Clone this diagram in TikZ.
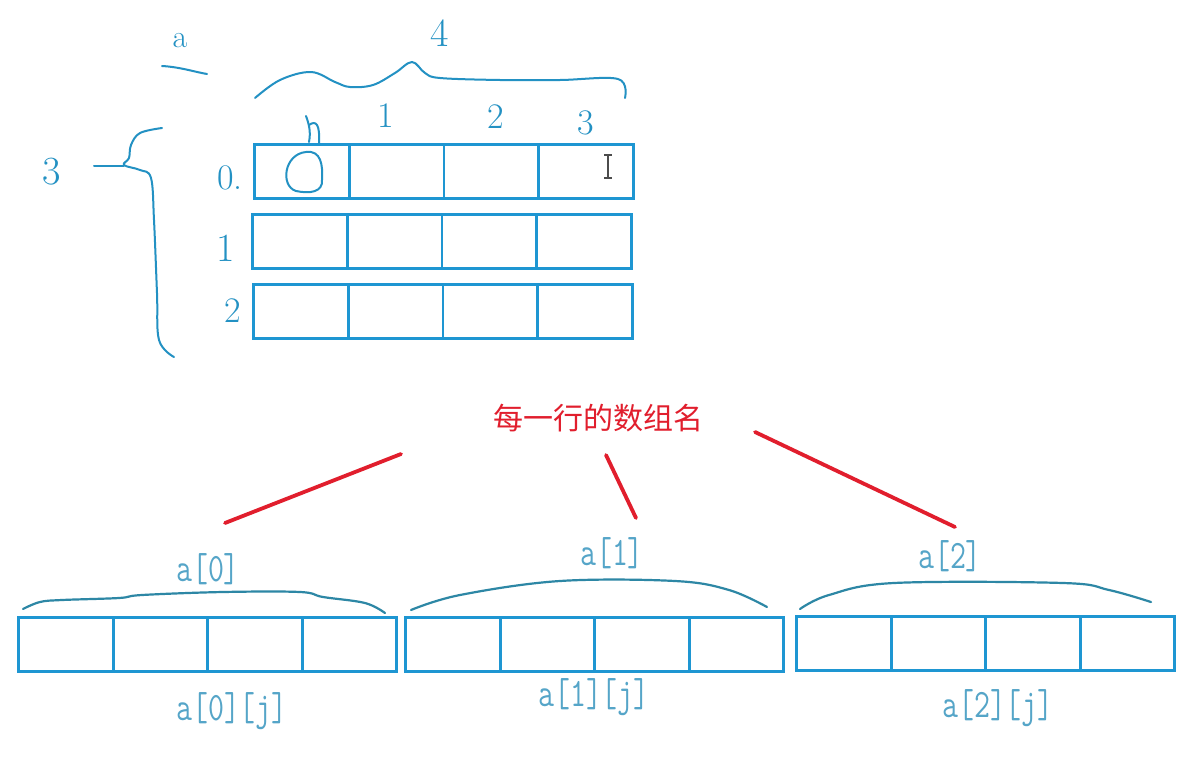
\documentclass[tikz,border=0pt]{standalone}
\usepackage{fontspec}
\usepackage{graphicx}
\newfontfamily\cjk{Noto Sans CJK SC}
\definecolor{gridblue}{RGB}{30,150,210}
\definecolor{inkblue}{RGB}{35,145,195}
\definecolor{teal}{RGB}{45,135,165}
\definecolor{labelblue}{RGB}{85,165,200}
\definecolor{myred}{RGB}{225,30,45}
\newcommand{\tall}[1]{\scalebox{1}[1.3]{#1}}
\begin{document}
\begin{tikzpicture}[x=1pt,y=-1pt,
 cell/.style={draw=gridblue,line width=2.8pt,minimum width=94.75pt,minimum height=54pt,inner sep=0pt,anchor=north west},
 ink/.style={draw=inkblue,line width=2pt,line cap=round,line join=round},
 ink2/.style={draw=teal,line width=2.2pt,line cap=round,line join=round},
 hand/.style={text=inkblue,font=\fontsize{36}{36}\selectfont,inner sep=0pt},
 lbl/.style={text=labelblue,font=\ttfamily\fontsize{31}{31}\selectfont,inner sep=0pt},
 redline/.style={draw=myred,line width=3.8pt,line cap=round}]
\useasboundingbox (0,0) rectangle (1203,782);
\fill[white] (0,0) rectangle (1203,782);
% top grid
\foreach \r/\x/\y in {0/253/143,1/251/213,2/252/283}
  \foreach \c in {0,...,3}
    \node[cell] (g\r\c) at ({\x+\c*94.75},\y) {};
% bottom arrays
\foreach \r/\x/\y in {0/17/616,1/404/616,2/795/615}
  \foreach \c in {0,...,3}
    \node[cell] (b\r\c) at ({\x+\c*94.5},\y) {};
% bottom labels
\node[lbl] (n0) at (208,569) {\tall{a[0]}};
\node[lbl] (n1) at (612,553) {\tall{a[1]}};
\node[lbl] (n2) at (950,556) {\tall{a[2]}};
\node[lbl] (e0) at (232,711) {\tall{a[0][j]}};
\node[lbl] (e1) at (594,697) {\tall{a[1][j]}};
\node[lbl] (e2) at (998,708) {\tall{a[2][j]}};
% bottom braces
\draw[ink2] plot[smooth,tension=0.6] coordinates {(23,609)(40,602)(62,600)(119,598)(142,595)(223,592)(300,592)(323,597)(365,603)(385,613)};
\draw[ink2] plot[smooth,tension=0.6] coordinates {(411,610)(460,595)(560,581)(675,581)(729,590)(767,607)};
\draw[ink2] plot[smooth,tension=0.6] coordinates {(800,609)(829,595)(894,583)(1063,583)(1109,590)(1151,602)};
% red title and lines
\node[text=myred,font=\cjk\fontsize{30}{30}\selectfont,inner sep=0pt] (title) at (598,418) {每一行的数组名};
\coordinate (r0a) at (401,454); \coordinate (r0b) at (225,523);
\coordinate (r1a) at (606,455); \coordinate (r1b) at (636,518);
\coordinate (r2a) at (755,432); \coordinate (r2b) at (955,527);
\draw[redline] (r0a) -- (r0b);
\draw[redline] (r1a) -- (r1b);
\draw[redline] (r2a) -- (r2b);
% handwriting at top
\node[hand,font=\fontsize{32}{32}\selectfont] (la) at (180,41) {a};
\draw[ink] (162,66) .. controls (180,67) and (195,72) .. (207,74);
\node[hand,font=\fontsize{40}{40}\selectfont] (l4) at (440,33) {4};
\draw[ink] plot[smooth,tension=0.6] coordinates {(255,98)(280,80)(311,72)(335,82)(350,87)(373,85)(395,73)(412,62)(425,73)(440,78)(500,80)(560,80)(618,79)(625,98)};
\node[hand] (c1) at (386,116) {1};
\node[hand] (c2) at (496,117) {2};
\node[hand] (c3) at (586,123) {3};
% scribbled 0 index and circle in first cell
\draw[ink] (306,116) .. controls (309,124) and (311,132) .. (309,142);
\draw[ink] (309,125) .. controls (316,120) and (320,124) .. (319,143);
\draw[ink] (306,152) .. controls (284,154) and (280,186) .. (296,191)
  .. controls (310,194) and (323,192) .. (322,180)
  .. controls (323,165) and (321,150) .. (306,152);
% cursor
\draw[gray!60!black,line width=1.1pt] (604,155)--(612,155) (608,155)--(608,178) (604,178)--(612,178);
% row labels
\node[hand] (r0l) at (230,178) {0.};
\node[hand,font=\fontsize{40}{40}\selectfont] (r1l) at (226,248) {1};
\node[hand] (r2l) at (233,311) {2};
% left brace and 3
\node[hand,font=\fontsize{40}{40}\selectfont] (l3) at (52,172) {3};
\draw[ink] (94,166) -- (124,166);
\draw[ink] plot[smooth,tension=0.6] coordinates {(162,128)(140,133)(131,145)(129,158)(124,165)(140,170)(151,178)(154,220)(157,293)(159,340)(174,357)};
\end{tikzpicture}
\end{document}
